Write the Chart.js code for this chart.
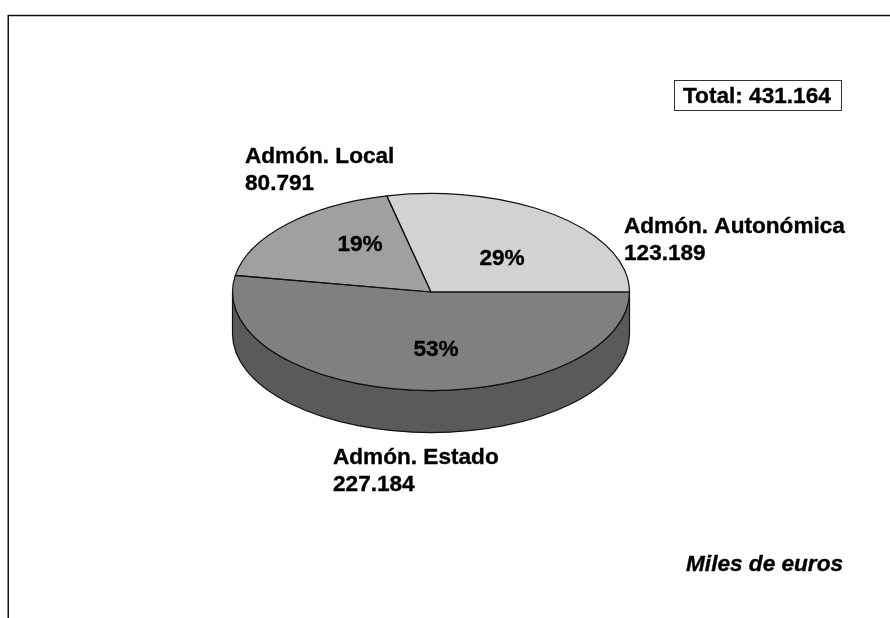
<!DOCTYPE html>
<html>
<head>
<meta charset="utf-8">
<style>
html, body { margin: 0; padding: 0; background: #fff; }
canvas { display: block; }
</style>
<script src="https://cdn.jsdelivr.net/npm/chart.js@4/dist/chart.umd.js"></script>
</head>
<body>
<canvas id="pie-chart" width="890" height="618"></canvas>
<script>
var categories = ["Admón. Estado", "Admón. Local", "Admón. Autonómica"];
var values = [227184, 80791, 123189];
var colors = ["#808080", "#A0A0A0", "#D2D2D2"];

var FONT = '"Liberation Sans", Arial, sans-serif';
var SQUASH = 0.4965;
var DEPTH = 42;

// where the texts go, same order as categories
var namePos = [[333, 464], [245, 163], [624, 233]];
var percentPos = [[436, 356], [360, 251], [502, 265]];

function fmt(n) {
	return String(n).replace(/\B(?=(\d{3})+$)/g, ".");
}

var total = values.reduce(function (a, b) { return a + b; }, 0);

// text a bit heavier, the original is a blurred bold
function boldText(ctx, text, x, y) {
	ctx.strokeStyle = "#000";
	ctx.lineWidth = 0.35;
	ctx.strokeText(text, x, y);
	ctx.fillText(text, x, y);
}

var pie3d = {
	id: "pie3d",
	beforeDatasetsDraw: function (chart) {
		var ctx = chart.ctx;
		var arc = chart.getDatasetMeta(0).data[0];
		var rx = arc.outerRadius, ry = rx * SQUASH;

		// side wall
		ctx.save();
		ctx.beginPath();
		ctx.ellipse(arc.x, arc.y + DEPTH, rx, ry, 0, 0, Math.PI);
		ctx.ellipse(arc.x, arc.y, rx, ry, 0, Math.PI, 0, true);
		ctx.closePath();
		ctx.fillStyle = "#5A5A5A";
		ctx.fill();
		ctx.strokeStyle = "#111";
		ctx.lineWidth = 1.2;
		ctx.stroke();
		ctx.restore();
	},
	beforeDatasetDraw: function (chart) {
		var ctx = chart.ctx;
		var arc = chart.getDatasetMeta(0).data[0];
		ctx.save();
		ctx.translate(0, arc.y);
		ctx.scale(1, SQUASH);
		ctx.translate(0, -arc.y);
	},
	afterDatasetDraw: function (chart) {
		var ctx = chart.ctx;
		ctx.restore();

		// outlines after the squash so the line stays even
		chart.getDatasetMeta(0).data.forEach(function (arc) {
			ctx.save();
			ctx.beginPath();
			ctx.moveTo(arc.x, arc.y);
			ctx.ellipse(arc.x, arc.y, arc.outerRadius, arc.outerRadius * SQUASH, 0, arc.startAngle, arc.endAngle);
			ctx.closePath();
			ctx.strokeStyle = "#111";
			ctx.lineWidth = 1.2;
			ctx.stroke();
			ctx.restore();
		});
	},
	afterDraw: function (chart) {
		var ctx = chart.ctx;
		ctx.save();

		// frame, only top and left are in the picture
		ctx.strokeStyle = "#111";
		ctx.lineWidth = 1.5;
		ctx.beginPath();
		ctx.moveTo(890, 15.5);
		ctx.lineTo(8.25, 15.5);
		ctx.lineTo(8.25, 618);
		ctx.stroke();

		ctx.fillStyle = "#000";
		ctx.textAlign = "left";
		ctx.textBaseline = "alphabetic";
		ctx.font = "bold 22.6px " + FONT;
		categories.forEach(function (name, i) {
			boldText(ctx, name, namePos[i][0], namePos[i][1]);
			boldText(ctx, fmt(values[i]), namePos[i][0], namePos[i][1] + 27);
			ctx.textAlign = "center";
			boldText(ctx, Math.round(values[i] / total * 100) + "%", percentPos[i][0], percentPos[i][1]);
			ctx.textAlign = "left";
		});

		// total box
		ctx.fillStyle = "#fff";
		ctx.fillRect(674.5, 80.5, 167, 30);
		ctx.strokeStyle = "#333";
		ctx.lineWidth = 1;
		ctx.strokeRect(674.5, 80.5, 167, 30);
		ctx.fillStyle = "#000";
		boldText(ctx, "Total: " + fmt(total), 683, 103);

		ctx.textAlign = "right";
		ctx.font = "italic bold 22.6px " + FONT;
		boldText(ctx, "Miles de euros", 843, 571);
		ctx.restore();
	}
};

new Chart(document.getElementById("pie-chart").getContext("2d"), {
	type: "pie",
	data: {
		labels: categories,
		datasets: [{
			data: values,
			backgroundColor: colors,
			borderWidth: 0,
			clip: false
		}]
	},
	options: {
		responsive: false,
		animation: false,
		rotation: 90,
		layout: { padding: { left: 232.5, right: 260.5, top: 93.5, bottom: 127.5 } },
		plugins: {
			legend: { display: false },
			tooltip: { enabled: false }
		}
	},
	plugins: [pie3d]
});
</script>
</body>
</html>
